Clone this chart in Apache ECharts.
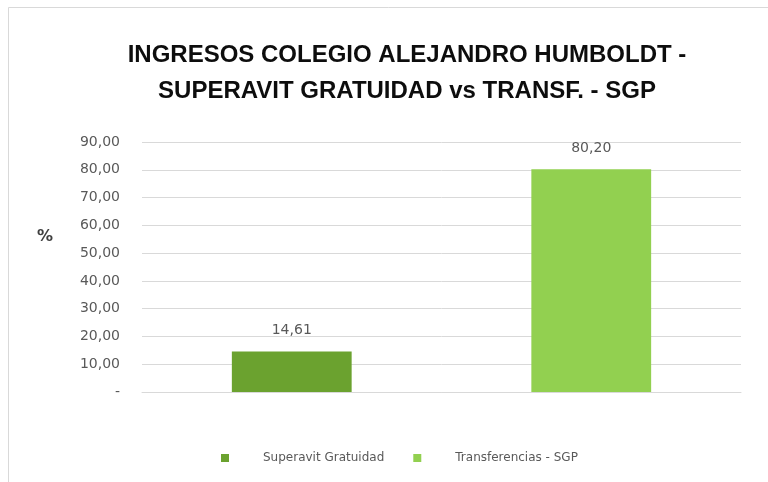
<!DOCTYPE html>
<html>
<head>
<meta charset="utf-8">
<script src="https://cdn.jsdelivr.net/npm/echarts@6/dist/echarts.min.js"></script>
<style>
  html, body { margin: 0; padding: 0; background: #fff; }
  #main { width: 768px; height: 482px; }
</style>
</head>
<body>
<div id="main"></div>
<script>
var categories = ['Superavit Gratuidad', 'Transferencias - SGP'];
var superavit = [14.61, '-'];
var transferencias = ['-', 80.20];
var yTicks = { min: 0, max: 90, step: 10 };

function fmt(v) {
  if (v === 0) return '-';
  return Number(v).toFixed(2).replace('.', ',');
}

var myChart = echarts.init(document.getElementById('main'));

var labelStyle = {
  show: true,
  position: 'top',
  distance: 14,
  color: '#595959',
  fontFamily: 'DejaVu Sans',
  fontSize: 14,
  formatter: function (p) { return fmt(p.value); }
};

var option = {
  backgroundColor: '#fff',
  title: {
    text: 'INGRESOS COLEGIO ALEJANDRO HUMBOLDT -\nSUPERAVIT GRATUIDAD vs TRANSF. - SGP',
    left: 402,
    top: 32,
    textAlign: 'center',
    textStyle: {
      fontFamily: 'Liberation Sans',
      fontWeight: 'bold',
      fontSize: 24,
      lineHeight: 36,
      color: '#0d0d0d'
    }
  },
  graphic: [
    {
      type: 'rect',
      shape: { x: 8.5, y: 7.5, width: 800, height: 500 },
      style: { fill: 'none', stroke: '#d9d9d9', lineWidth: 1 },
      silent: true
    },
    {
      type: 'text',
      left: 37,
      top: 229,
      style: {
        text: '%',
        fontFamily: 'DejaVu Sans',
        fontSize: 16,
        fontWeight: 'bold',
        fill: '#404040'
      }
    }
  ],
  legend: {
    left: 221,
    top: 452,
    padding: 0,
    icon: 'rect',
    itemWidth: 8,
    itemHeight: 8,
    itemGap: 29,
    textStyle: {
      color: '#595959',
      fontFamily: 'DejaVu Sans',
      fontSize: 12,
      padding: [0, 0, 0, 29]
    },
    data: ['Superavit Gratuidad', 'Transferencias - SGP']
  },
  grid: {
    left: 142,
    right: 27,
    top: 142,
    bottom: 90
  },
  xAxis: {
    type: 'category',
    data: categories,
    axisTick: { show: false },
    axisLabel: { show: false },
    axisLine: { lineStyle: { color: '#d9d9d9' } }
  },
  yAxis: {
    type: 'value',
    min: yTicks.min,
    max: yTicks.max,
    interval: yTicks.step,
    axisLine: { show: false },
    axisTick: { show: false },
    axisLabel: {
      margin: 22,
      color: '#595959',
      fontFamily: 'DejaVu Sans',
      fontSize: 14,
      formatter: fmt
    },
    splitLine: { lineStyle: { color: '#d9d9d9' } }
  },
  series: [
    {
      name: 'Superavit Gratuidad',
      type: 'bar',
      stack: 'total',
      barWidth: '40%',
      itemStyle: { color: '#6ba22f' },
      label: labelStyle,
      data: superavit
    },
    {
      name: 'Transferencias - SGP',
      type: 'bar',
      stack: 'total',
      barWidth: '40%',
      itemStyle: { color: '#92d050' },
      label: labelStyle,
      data: transferencias
    }
  ]
};

if (option && typeof option === "object") {
  myChart.setOption(option, true);
}
</script>
</body>
</html>
